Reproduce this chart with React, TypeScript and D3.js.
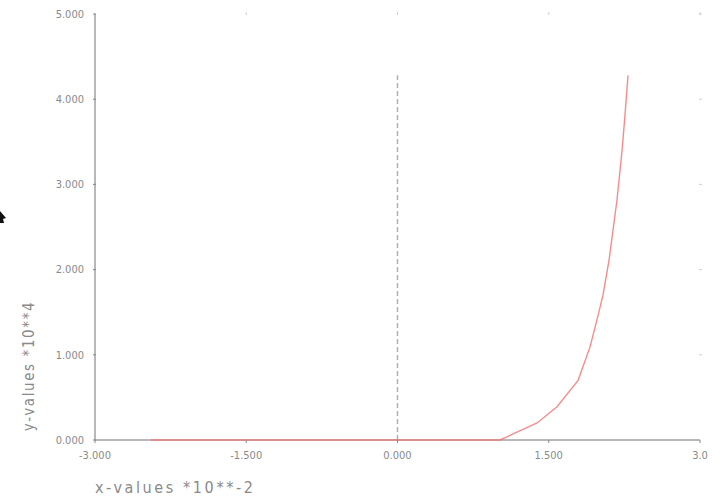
import React from "react";
import * as d3 from "d3";

const xData = [-2.45, 1.017, 1.384, 1.582, 1.791, 1.909, 1.978, 2.038, 2.098, 2.137, 2.177, 2.227, 2.256, 2.286];
const yData = [0, 0, 0.2, 0.39, 0.7, 1.09, 1.41, 1.7, 2.11, 2.46, 2.82, 3.4, 3.81, 4.28];
const xTicks = [-3, -1.5, 0, 1.5, 3];
const xTickLabels = ["-3.000", "-1.500", "0.000", "1.500", "3.0"];
const yTicks = [0, 1, 2, 3, 4, 5];
const yTickLabels = ["0.000", "1.000", "2.000", "3.000", "4.000", "5.000"];
const xTitle = "x-values  *10**-2";
const yTitle = "y-values  *10**4";

export default function App() {
  const W = 720, H = 503;
  const x = d3.scaleLinear().domain([-3, 3]).range([95, 700]);
  const y = d3.scaleLinear().domain([0, 5]).range([440, 14]);
  const pts: [number, number][] = xData.map((v, i) => [v, yData[i]]);
  const line = d3.line<[number, number]>().x(d => x(d[0])).y(d => y(d[1]));
  const yMax = d3.max(yData) as number;
  const axisColor = "#a0a0a0";
  const textColor = "#8a8a8a";
  const font = "'DejaVu Sans Condensed', 'Liberation Sans Narrow', sans-serif";
  return (
    <svg width={W} height={H} style={{ position: "absolute", left: 0, top: 0, background: "#fff" }}>
      <rect x={0} y={0} width={W} height={H} fill="#fff" />
      {/* top & right faint ticks */}
      {xTicks.slice(1).map((t, i) => (
        <line key={"tt" + i} x1={x(t)} x2={x(t)} y1={y(5) - 2} y2={y(5) + 1} stroke="#cfcfcf" strokeWidth={1} />
      ))}
      {yTicks.slice(1).map((t, i) => (
        <line key={"rt" + i} x1={x(3) - 1} x2={x(3) + 2} y1={y(t)} y2={y(t)} stroke="#cfcfcf" strokeWidth={1} />
      ))}
      {/* dashed vertical line at x=0 */}
      <line x1={x(0)} x2={x(0)} y1={y(0)} y2={y(yMax)} stroke="#b0b0b0" strokeWidth={1.5} strokeDasharray="5 3" />
      {/* axes */}
      <line x1={x(-3)} x2={x(-3)} y1={y(0)} y2={y(5)} stroke={axisColor} strokeWidth={1.5} />
      <line x1={x(-3)} x2={x(3)} y1={y(0)} y2={y(0)} stroke={axisColor} strokeWidth={1.5} />
      {/* curve */}
      <path d={line(pts) || ""} fill="none" stroke="#f07070" strokeOpacity={0.8} strokeWidth={1.4} />
      {/* axis ticks */}
      {yTicks.map((t, i) => (
        <g key={"yt" + i}>
          <line x1={x(-3) - 2} x2={x(-3) + 1} y1={y(t)} y2={y(t)} stroke="#888" strokeWidth={1} />
          <text x={84} y={y(t)} dy="0.35em" textAnchor="end" fontSize={11} fill={textColor} fontFamily={font}>
            {yTickLabels[i]}
          </text>
        </g>
      ))}
      {xTicks.map((t, i) => (
        <g key={"xt" + i}>
          <line x1={x(t)} x2={x(t)} y1={y(0)} y2={y(0) + 3} stroke="#888" strokeWidth={1} />
          <text x={x(t)} y={459} textAnchor="middle" fontSize={11} fill={textColor} fontFamily={font}>
            {xTickLabels[i]}
          </text>
        </g>
      ))}
      <text x={95} y={493} fontSize={16} fill={textColor} fontFamily={font} letterSpacing={2.6}>
        {xTitle}
      </text>
      <text transform={`translate(34,366) rotate(-90)`} textAnchor="middle" fontSize={15} fill={textColor} fontFamily={font} letterSpacing={1.6}>
        {yTitle}
      </text>
      {/* cursor artifact */}
      <path d="M0,211 L6,218 L3,219 L4,223 L0,223 Z" fill="#111" />
    </svg>
  );
}
